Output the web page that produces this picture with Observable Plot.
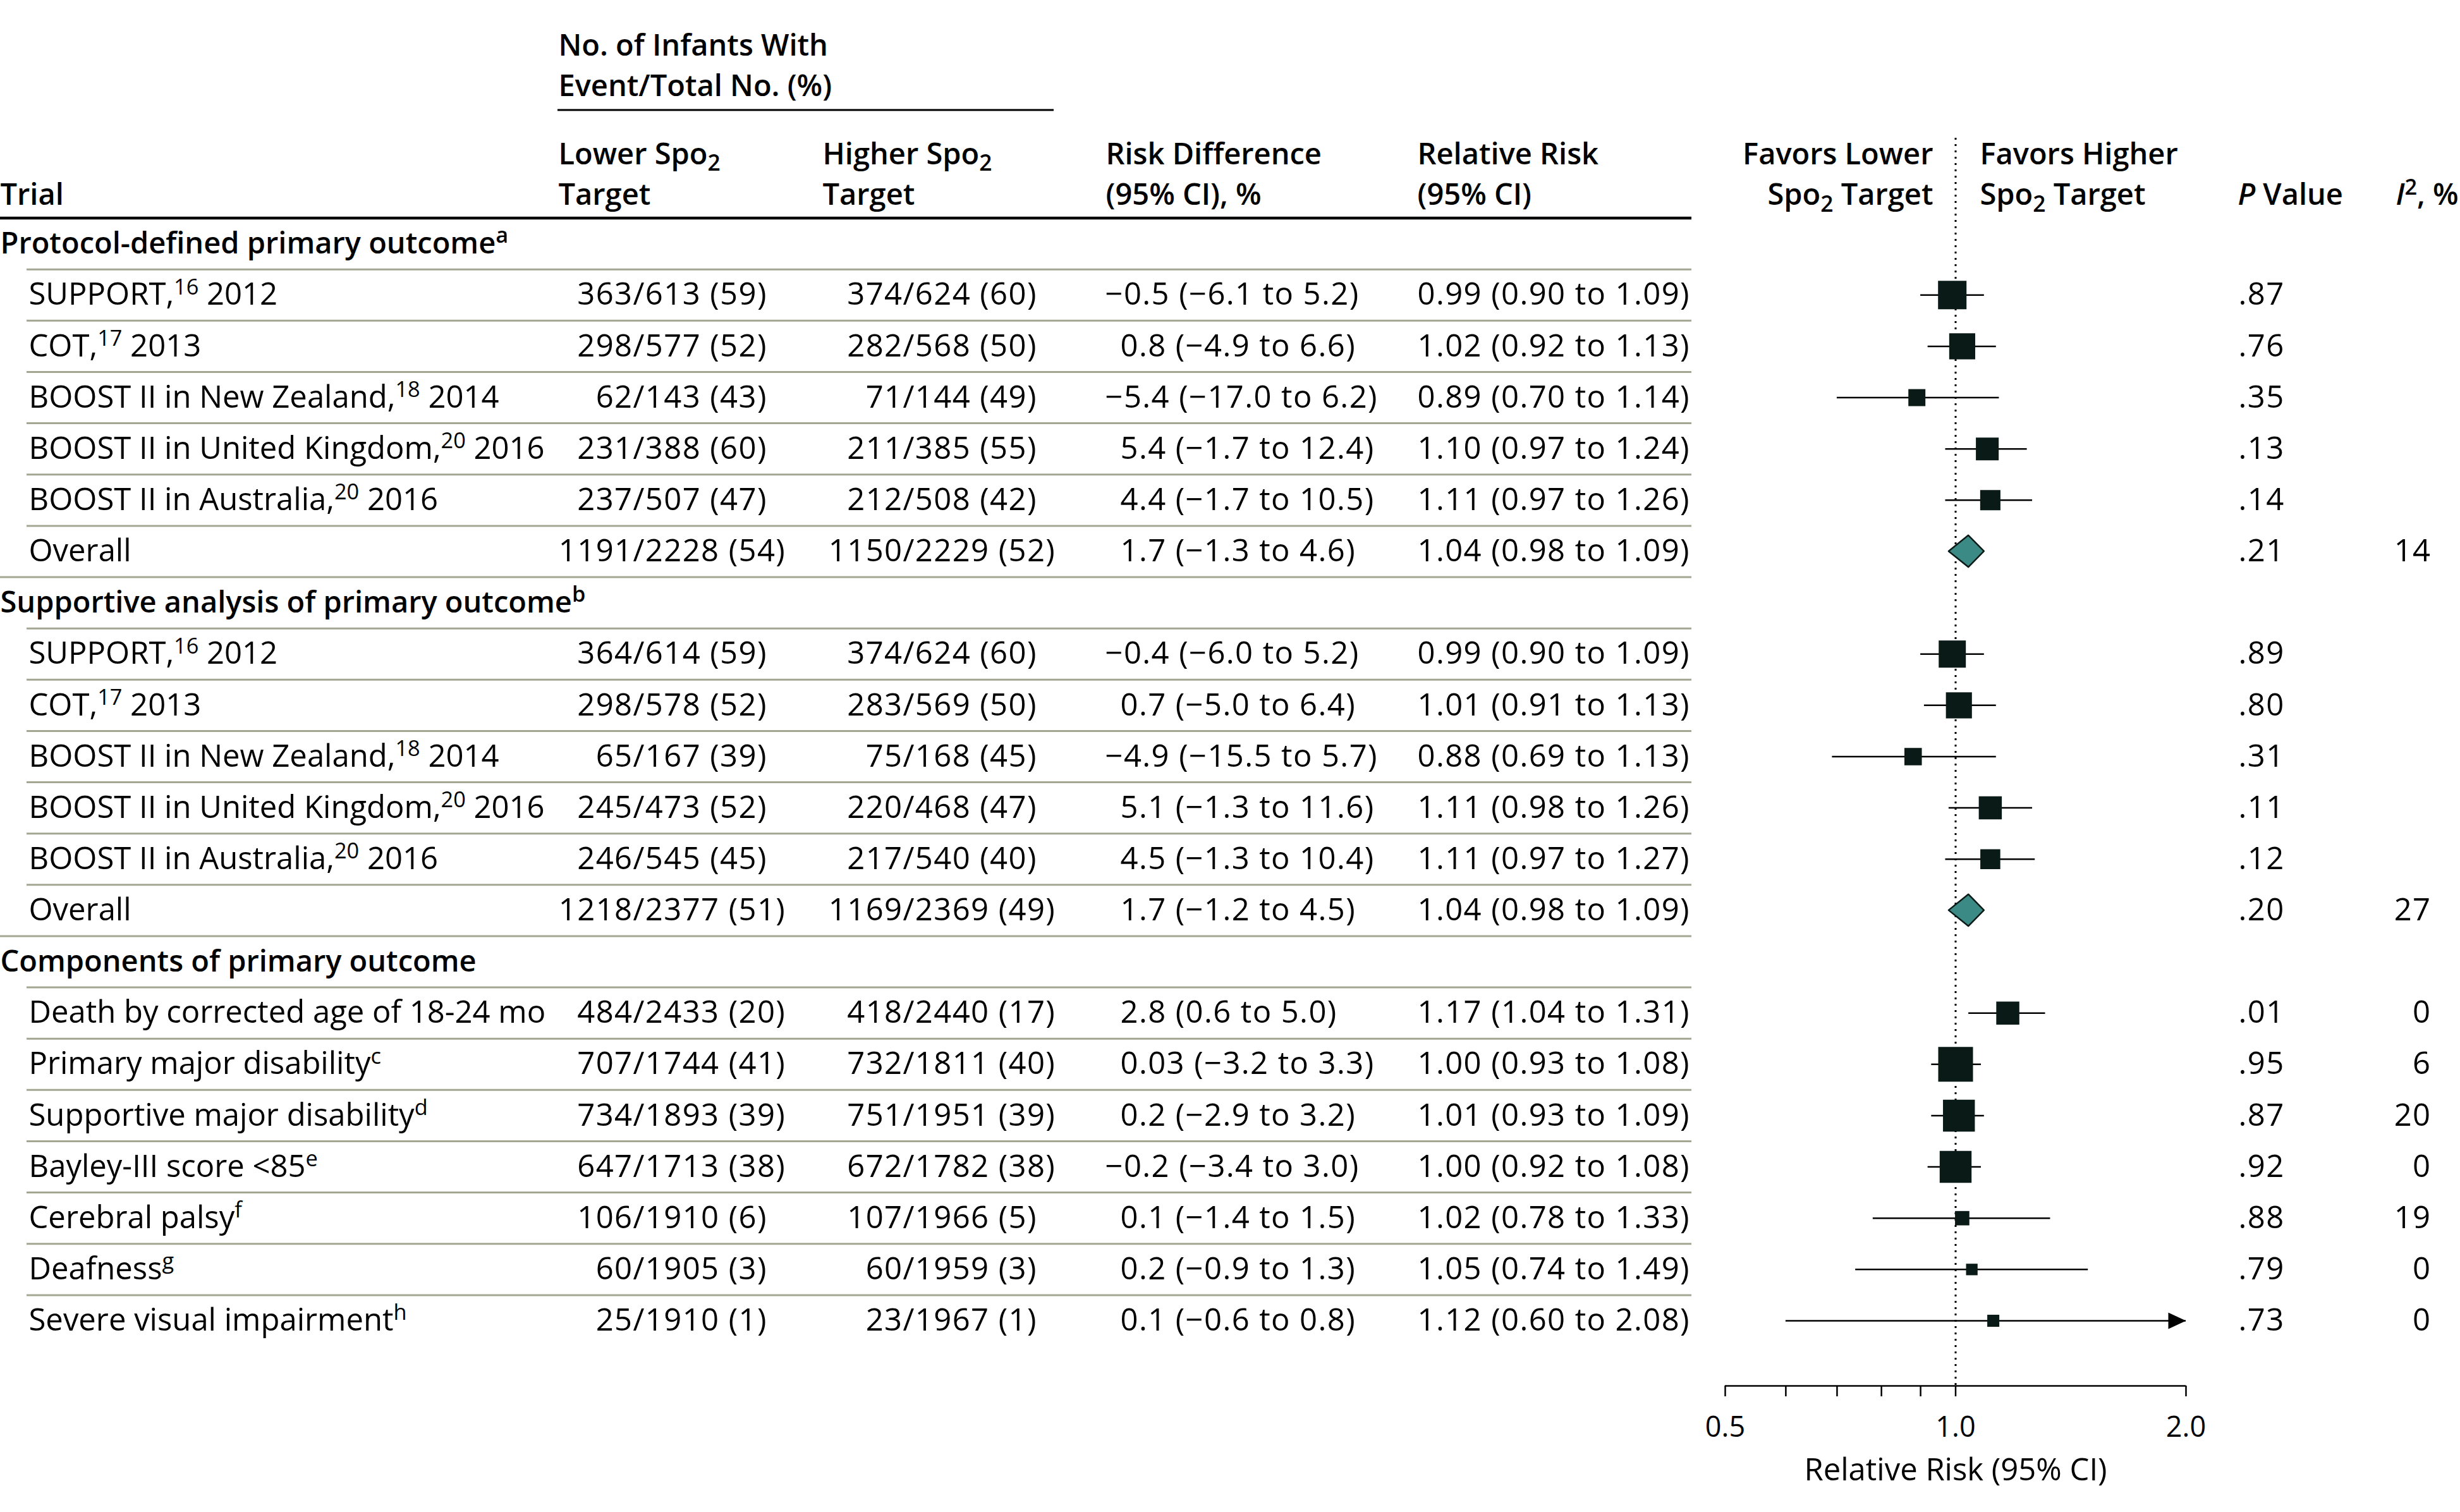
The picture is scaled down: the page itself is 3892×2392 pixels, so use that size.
<!DOCTYPE html>
<html><head><meta charset="utf-8">
<script src="https://cdn.jsdelivr.net/npm/d3@7"></script>
<script src="https://cdn.jsdelivr.net/npm/@observablehq/plot@0.6"></script>
<style>
html,body{margin:0;padding:0;background:#fff;}
#chart svg{display:block;}
</style></head><body><div id="chart"></div>
<script>
// ---------------- data ----------------
const rowLabels = [
  "Protocol-defined primary outcome^{a}",
  "SUPPORT,^{16} 2012",
  "COT,^{17} 2013",
  "BOOST II in New Zealand,^{18} 2014",
  "BOOST II in United Kingdom,^{20} 2016",
  "BOOST II in Australia,^{20} 2016",
  "Overall",
  "Supportive analysis of primary outcome^{b}",
  "SUPPORT,^{16} 2012",
  "COT,^{17} 2013",
  "BOOST II in New Zealand,^{18} 2014",
  "BOOST II in United Kingdom,^{20} 2016",
  "BOOST II in Australia,^{20} 2016",
  "Overall",
  "Components of primary outcome",
  "Death by corrected age of 18-24 mo",
  "Primary major disability^{c}",
  "Supportive major disability^{d}",
  "Bayley-III score <85^{e}",
  "Cerebral palsy^{f}",
  "Deafness^{g}",
  "Severe visual impairment^{h}"
];
const rowKinds = ["group","trial","trial","trial","trial","trial","overall",
  "group","trial","trial","trial","trial","trial","overall",
  "group","outcome","outcome","outcome","outcome","outcome","outcome","outcome"];
const lowerEvents  = [null,363,298,62,231,237,1191,null,364,298,65,245,246,1218,null,484,707,734,647,106,60,25];
const lowerTotals  = [null,613,577,143,388,507,2228,null,614,578,167,473,545,2377,null,2433,1744,1893,1713,1910,1905,1910];
const lowerPct     = [null,59,52,43,60,47,54,null,59,52,39,52,45,51,null,20,41,39,38,6,3,1];
const higherEvents = [null,374,282,71,211,212,1150,null,374,283,75,220,217,1169,null,418,732,751,672,107,60,23];
const higherTotals = [null,624,568,144,385,508,2229,null,624,569,168,468,540,2369,null,2440,1811,1951,1782,1966,1959,1967];
const higherPct    = [null,60,50,49,55,42,52,null,60,50,45,47,40,49,null,17,40,39,38,5,3,1];
const riskDiff = [null,
  "−0.5 (−6.1 to 5.2)","0.8 (−4.9 to 6.6)","−5.4 (−17.0 to 6.2)","5.4 (−1.7 to 12.4)","4.4 (−1.7 to 10.5)","1.7 (−1.3 to 4.6)",
  null,
  "−0.4 (−6.0 to 5.2)","0.7 (−5.0 to 6.4)","−4.9 (−15.5 to 5.7)","5.1 (−1.3 to 11.6)","4.5 (−1.3 to 10.4)","1.7 (−1.2 to 4.5)",
  null,
  "2.8 (0.6 to 5.0)","0.03 (−3.2 to 3.3)","0.2 (−2.9 to 3.2)","−0.2 (−3.4 to 3.0)","0.1 (−1.4 to 1.5)","0.2 (−0.9 to 1.3)","0.1 (−0.6 to 0.8)"];
const rrEst  = [null,0.99,1.02,0.89,1.10,1.11,1.04,null,0.99,1.01,0.88,1.11,1.11,1.04,null,1.17,1.00,1.01,1.00,1.02,1.05,1.12];
const rrLow  = [null,0.90,0.92,0.70,0.97,0.97,0.98,null,0.90,0.91,0.69,0.98,0.97,0.98,null,1.04,0.93,0.93,0.92,0.78,0.74,0.60];
const rrHigh = [null,1.09,1.13,1.14,1.24,1.26,1.09,null,1.09,1.13,1.13,1.26,1.27,1.09,null,1.31,1.08,1.09,1.08,1.33,1.49,2.08];
const weights = [null,67,56,24,43,34,null,null,61,56,25,44,33,null,null,44,100,84,84,17,11,12];
const pValues = [null,".87",".76",".35",".13",".14",".21",null,".89",".80",".31",".11",".12",".20",null,".01",".95",".87",".92",".88",".79",".73"];
const i2Values = [null,null,null,null,null,null,14,null,null,null,null,null,null,27,null,0,6,20,0,19,0,0];

const xDomain = [0.5, 2];
const xTicks = [0.5, 0.6, 0.7, 0.8, 0.9, 1, 2];
const xTickLabels = [0.5, 1, 2];
const axisTitle = "Relative Risk (95% CI)";
const headerText = {
  span1: "No. of Infants With", span2: "Event/Total No. (%)",
  trial: "Trial", lowA: "Lower Spo_{2}", lowB: "Target", highA: "Higher Spo_{2}", highB: "Target",
  rdA: "Risk Difference", rdB: "(95% CI), %", rrA: "Relative Risk", rrB: "(95% CI)",
  favLA: "Favors Lower", favLB: "Spo_{2} Target", favHA: "Favors Higher", favHB: "Spo_{2} Target",
  p: "*{P} Value", i2: "*{I}^{2}, %"
};

// ---------------- layout (pixels / row units) ----------------
const FONT = "'Open Sans', 'Noto Sans', sans-serif";
const FS = 49;      // body rows
const FSH = 47;     // headers
const NUM_SPACING = 1.4;
const W = 3892, H = 2392;
const yDomain = [22.27, -2.06];
const L = {
  group: 0, indent: 45, lowSlash: 1001, highSlash: 1428, rdNeg: 1748, rdPos: 1772,
  rr: 2242, p: 3541, i2: 3846, tableEnd: 2676, ruleIndent: 42, spanX1: 882, spanX2: 1667,
  lineSpan1: -3.86, lineSpan2: -3.06, spanRule: -2.61, lineA: -1.74, lineB: -0.94,
  diamondHalf: 0.31
};
const headerCells = [
  ["span1", 883, "lineSpan1", "start"], ["span2", 883, "lineSpan2", "start"],
  ["trial", 0, "lineB", "start"],
  ["lowA", 883, "lineA", "start"], ["lowB", 883, "lineB", "start"],
  ["highA", 1301, "lineA", "start"], ["highB", 1301, "lineB", "start"],
  ["rdA", 1749, "lineA", "start"], ["rdB", 1749, "lineB", "start"],
  ["rrA", L.rr, "lineA", "start"], ["rrB", L.rr, "lineB", "start"],
  ["favLA", 3058, "lineA", "end"], ["favLB", 3058, "lineB", "end"],
  ["favHA", 3132, "lineA", "start"], ["favHB", 3132, "lineB", "start"],
  ["p", 3540, "lineB", "start"], ["i2", 3790, "lineB", "start"]
];

// ---------------- table ----------------
const rows = rowLabels.map((label, i) => ({
  i, label, kind: rowKinds[i],
  lowEv: lowerEvents[i], lowN: lowerTotals[i], lowPct: lowerPct[i],
  highEv: higherEvents[i], highN: higherTotals[i], highPct: higherPct[i],
  rd: riskDiff[i], est: rrEst[i], lo: rrLow[i], hi: rrHigh[i],
  w: weights[i], p: pValues[i], i2: i2Values[i]
}));
const dataRows = rows.filter(d => d.kind !== "group");
const groupRows = rows.filter(d => d.kind === "group");
const studyRows = dataRows.filter(d => d.kind !== "overall");
const overallRows = dataRows.filter(d => d.kind === "overall");
const arrowRows = dataRows.filter(d => d.hi > xDomain[1]);
const f2 = d3.format(".2f");
const diamondPts = overallRows.flatMap(d => [
  {i: d.i, y: d.i - L.diamondHalf, x1: d.est, x2: d.est},
  {i: d.i, y: d.i, x1: d.lo, x2: d.hi},
  {i: d.i, y: d.i + L.diamondHalf, x1: d.est, x2: d.est}
]);

const ink = "#000";
const boxColor = "#0a1a17";
const teal = "#3c8a85";
const sepColor = "#a3a792";

const arrowHead = {draw(ctx) { ctx.moveTo(0, 0); ctx.lineTo(-28, -13); ctx.lineTo(-28, 13); ctx.closePath(); }};

const txt = (data, opts) => Plot.text(data, {frameAnchor: "left", fontSize: FS, fill: ink, lineAnchor: "middle", ...opts});
const num = (data, opts) => txt(data, {...opts, ariaLabel: () => "num"});

const marks = [
  // separators
  Plot.ruleY(dataRows, {y: d => d.i - 0.5, stroke: sepColor, strokeWidth: 3, insetLeft: L.ruleIndent, insetRight: W - L.tableEnd}),
  Plot.ruleY(groupRows.slice(1), {y: d => d.i - 0.5, stroke: sepColor, strokeWidth: 3, insetLeft: 0, insetRight: W - L.tableEnd}),
  Plot.ruleY(groupRows.slice(0, 1), {y: d => d.i - 0.5, stroke: ink, strokeWidth: 4.5, insetLeft: 0, insetRight: W - L.tableEnd}),
  Plot.ruleY([L.spanRule], {stroke: ink, strokeWidth: 3, insetLeft: L.spanX1, insetRight: W - L.spanX2}),
  // header
  ...headerCells.map(([k, x, line, anchor]) =>
    txt([headerText[k]], {text: d => d, y: () => L[line], dx: x, textAnchor: anchor, fontWeight: 600, fontSize: FSH})),
  // labels
  txt(groupRows, {y: "i", text: "label", dx: L.group, textAnchor: "start", fontWeight: 600, fontSize: FSH}),
  txt(dataRows, {y: "i", text: "label", dx: L.indent, textAnchor: "start"}),
  // counts (aligned on the slash)
  num(dataRows, {y: "i", text: d => String(d.lowEv), dx: L.lowSlash, textAnchor: "end"}),
  num(dataRows, {y: "i", text: d => `/${d.lowN} (${d.lowPct})`, dx: L.lowSlash, textAnchor: "start"}),
  num(dataRows, {y: "i", text: d => String(d.highEv), dx: L.highSlash, textAnchor: "end"}),
  num(dataRows, {y: "i", text: d => `/${d.highN} (${d.highPct})`, dx: L.highSlash, textAnchor: "start"}),
  // risk difference
  num(dataRows.filter(d => d.rd.startsWith("−")), {y: "i", text: "rd", dx: L.rdNeg, textAnchor: "start"}),
  num(dataRows.filter(d => !d.rd.startsWith("−")), {y: "i", text: "rd", dx: L.rdPos, textAnchor: "start"}),
  // relative risk
  num(dataRows, {y: "i", text: d => `${f2(d.est)} (${f2(d.lo)} to ${f2(d.hi)})`, dx: L.rr, textAnchor: "start"}),
  // p & I2
  num(dataRows, {y: "i", text: "p", dx: L.p, textAnchor: "start"}),
  num(dataRows.filter(d => d.i2 != null), {y: "i", text: d => String(d.i2), dx: L.i2, textAnchor: "end"}),
  // forest
  Plot.ruleX([1], {stroke: ink, strokeWidth: 3, strokeDasharray: "3,7"}),
  Plot.ruleY(studyRows, {y: "i", x1: "lo", x2: d => Math.min(d.hi, xDomain[1]), stroke: ink, strokeWidth: 2.5}),
  Plot.dot(studyRows, {x: "est", y: "i", r: "w", symbol: "square", fill: boxColor, stroke: "none"}),
  Plot.dot(arrowRows, {x: () => xDomain[1], y: "i", symbol: arrowHead, fill: ink, stroke: "none"}),
  Plot.areaX(diamondPts, {y: "y", x1: "x1", x2: "x2", z: "i", curve: "linear", fill: teal, stroke: boxColor, strokeWidth: 2.5}),
  // axis
  Plot.ruleY([yDomain[0]], {x1: xDomain[0], x2: xDomain[1], stroke: ink, strokeWidth: 2.5}),
  Plot.axisX({ticks: xTicks, tickSize: 17, tickPadding: 32, strokeWidth: 2.5, fontSize: 45, fill: ink,
    tickFormat: d => xTickLabels.includes(d) ? d.toFixed(1) : ""}),
  Plot.text([axisTitle], {x: () => Math.sqrt(xDomain[0] * xDomain[1]), frameAnchor: "bottom", lineAnchor: "middle", dy: 134,
    text: d => d, fontSize: 49, fill: ink})
];

const chart = Plot.plot({
  width: W, height: H,
  marginLeft: 0, marginRight: 0, marginTop: 218, marginBottom: H - 2192,
  style: {fontFamily: FONT, fontSize: FS + "px", color: ink, background: "#fff"},
  x: {type: "log", domain: xDomain, range: [2729, 3458]},
  y: {type: "linear", domain: yDomain, axis: null},
  r: {type: "sqrt", domain: [0, 100], range: [0, 55 / Math.sqrt(Math.PI)]},
  marks
});

// numeric columns: slightly wider digit spacing
chart.querySelectorAll('[aria-label="num"]').forEach(el => {
  if (el.tagName.toLowerCase() === "text") el.setAttribute("letter-spacing", NUM_SPACING);
  else el.querySelectorAll("text").forEach(t => t.setAttribute("letter-spacing", NUM_SPACING));
});

// rich text: ^{sup}, _{sub}, *{italic}
function richText(svg) {
  const NS = "http://www.w3.org/2000/svg";
  svg.querySelectorAll("text").forEach(t => {
    const s = t.textContent;
    if (!/[\^_*]\{/.test(s)) return;
    const fs = parseFloat(t.getAttribute("font-size")) || FS;
    const parts = []; const re = /([\^_*])\{([^}]*)\}/g; let last = 0, m;
    while ((m = re.exec(s))) {
      if (m.index > last) parts.push({k: "", s: s.slice(last, m.index)});
      parts.push({k: m[1], s: m[2]}); last = re.lastIndex;
    }
    if (last < s.length) parts.push({k: "", s: s.slice(last)});
    while (t.firstChild) t.removeChild(t.firstChild);
    let shift = 0;
    for (const p of parts) {
      const ts = document.createElementNS(NS, "tspan");
      const target = p.k === "^" ? -0.34 * fs : p.k === "_" ? 0.22 * fs : 0;
      if (target !== shift) { ts.setAttribute("dy", (target - shift).toFixed(1)); shift = target; }
      if (p.k === "^") ts.setAttribute("font-size", (0.7 * fs).toFixed(1));
      if (p.k === "_") ts.setAttribute("font-size", (0.72 * fs).toFixed(1));
      if (p.k === "*") ts.setAttribute("font-style", "italic");
      ts.textContent = p.s;
      t.appendChild(ts);
    }
  });
}
richText(chart);
document.getElementById("chart").appendChild(chart);
</script>
</body></html>
